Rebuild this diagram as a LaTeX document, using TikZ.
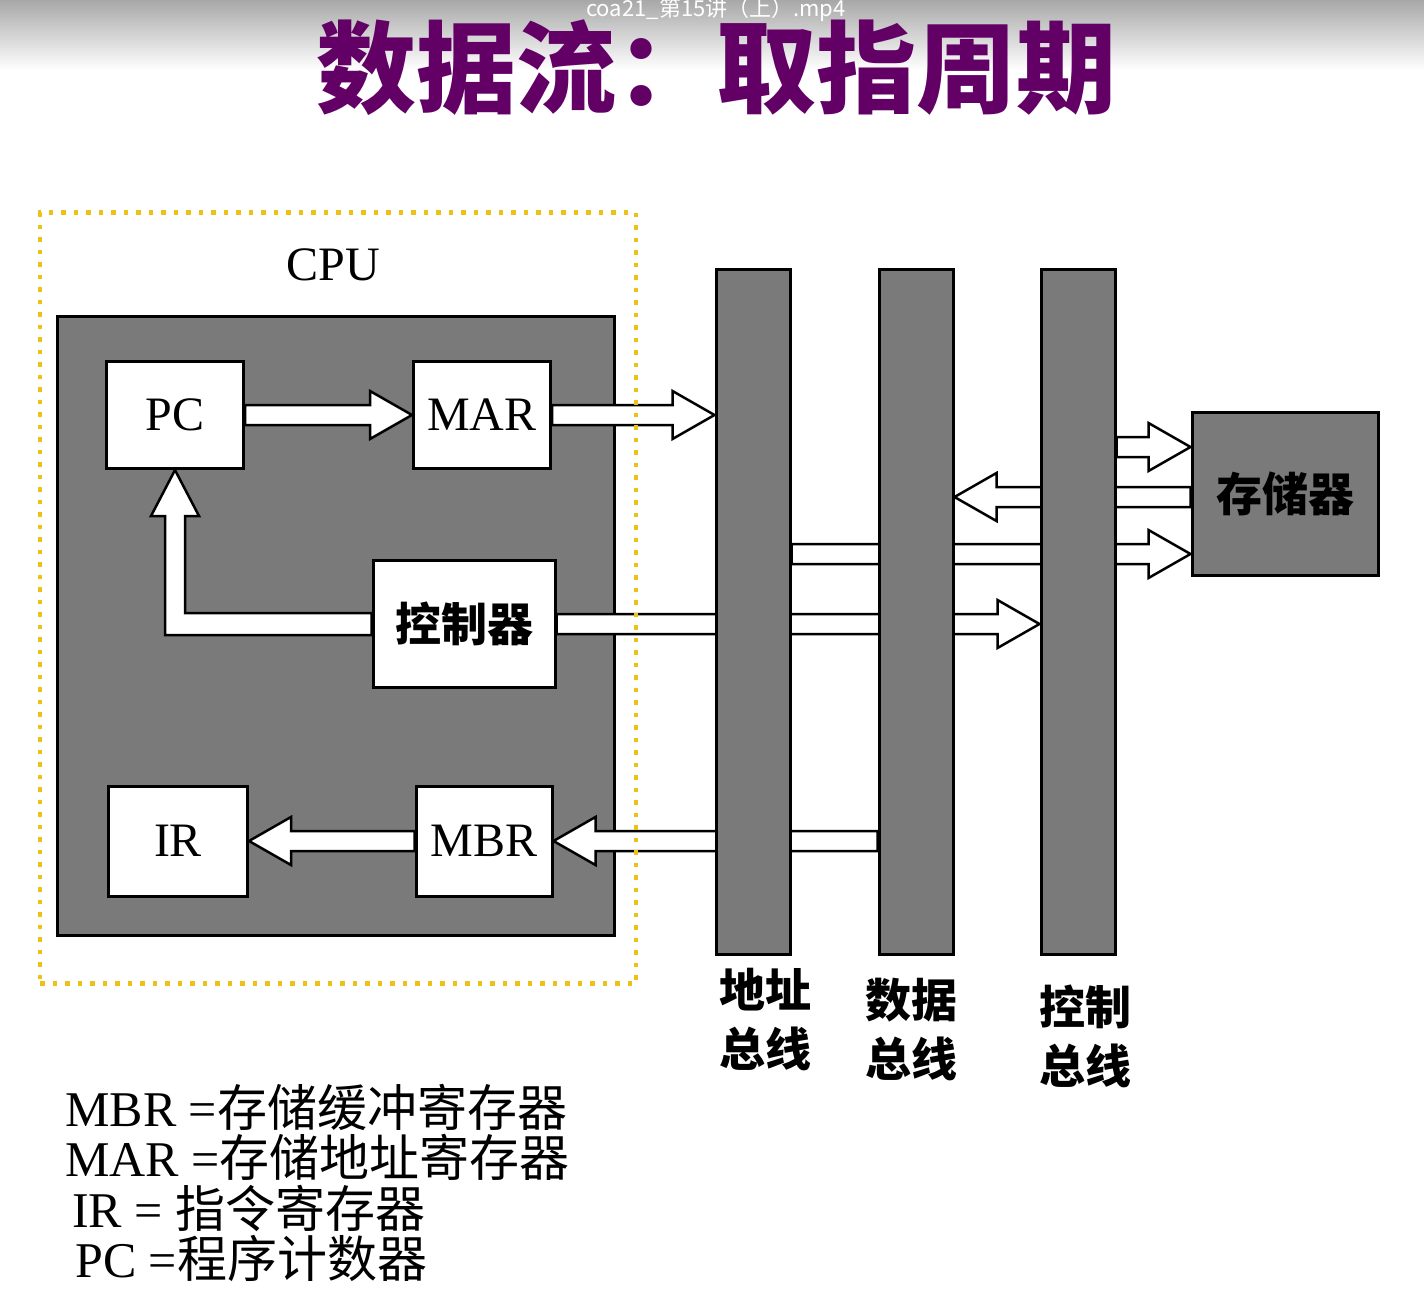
\documentclass[tikz,border=0pt]{standalone}
\usepackage{fontspec}
\setmainfont{Liberation Serif}
\newfontfamily\cjk{Noto Sans CJK SC}
\usepackage{xcolor}
\usepackage{tikz}
\usetikzlibrary{positioning, calc, backgrounds}

\definecolor{titlepurple}{RGB}{98,0,102}
\definecolor{zoneyellow}{RGB}{236,194,22}
\definecolor{panelgray}{RGB}{122,122,122}
\definecolor{topgray}{RGB}{168,168,168}

% hollow block arrow: shaft starts at #1, tip lands on #2 (horizontal)
\newcommand{\fatarrow}[2]{%
  \draw[fat] let \p1=(#1), \p2=(#2), \p3=($(#2)!42pt!(#1)$) in
    (\x1,\y2+10pt) -- (\x3,\y2+10pt) -- (\x3,\y2+24pt) -- (\x2,\y2)
    -- (\x3,\y2-24pt) -- (\x3,\y2-10pt) -- (\x1,\y2-10pt) -- cycle;}

\begin{document}
\begin{tikzpicture}[
  x=1pt, y=-1pt,
  reg/.style={rectangle, draw=black, line width=3pt, fill=white, minimum width=137pt, minimum height=107pt, inner sep=0pt, font=\fontsize{48}{56}\selectfont},
  cjkreg/.style={reg, font=\cjk\bfseries\fontsize{46}{56}\selectfont},
  busbar/.style={rectangle, draw=black, line width=3pt, fill=panelgray, minimum width=74pt, minimum height=685pt, inner sep=0pt},
  buslabel/.style={font=\cjk\bfseries\fontsize{46}{59}\selectfont, align=center, inner sep=0pt},
  legend/.style={anchor=west, inner sep=0pt, font=\fontsize{50}{50}\selectfont},
  fat/.style={draw=black, line width=2.5pt, fill=white, line join=miter},
]

% Canvas
\useasboundingbox (0,0) rectangle (1424,1290);
\begin{scope}[on background layer]
  \fill[white] (0,0) rectangle (1424,1290);
  \shade[top color=topgray, bottom color=white] (0,0) rectangle (1424,70);
  \node[rectangle, draw=black, line width=3pt, fill=panelgray, minimum width=557pt, minimum height=619pt] (cpu) at (336,626) {};
\end{scope}

% Title
\node[text=white, inner sep=0pt, font=\cjk\fontsize{22}{24}\selectfont] (clip) at (716,10) {coa21\_第15讲（上）.mp4};
\node[text=titlepurple, inner sep=0pt, font=\cjk\bfseries\fontsize{100}{110}\selectfont] (title) at (716,68) {数据流：取指周期};

% CPU registers
\node[font=\fontsize{48}{56}\selectfont] (cpulabel) at (333,265) {CPU};
\node[reg] (pc) at (175,415) {PC};
\node[reg] (mar) at (482,415) {MAR};
\node[cjkreg, minimum width=182pt, minimum height=127pt] (ctrl) at (464,624) {控制器};
\node[reg, minimum width=139pt, minimum height=110pt] (ir) at (178,841) {IR};
\node[reg, minimum width=136pt, minimum height=110pt] (mbr) at (484,841) {MBR};

% Buses
\node[busbar] (abus) at (753,612) {};
\node[busbar] (dbus) at (916,612) {};
\node[busbar] (cbus) at (1078,612) {};
\node[buslabel] (alabel) at (765,1020) {地址\\总线};
\node[buslabel] (dlabel) at (911,1030) {数据\\总线};
\node[buslabel] (clabel) at (1085,1036) {控制\\总线};

% Memory
\node[cjkreg, fill=panelgray, minimum width=186pt, minimum height=163pt] (mem) at (1285,494) {存储器};
\coordinate (mtop) at ($(mem.west)+(0,-47)$);
\coordinate (mmid) at ($(mem.west)+(0,3)$);
\coordinate (mbot) at ($(mem.west)+(0,60)$);

% Flow Arrows
\begin{scope}[on background layer]
  \fatarrow{pc.east}{mar.west}
  \fatarrow{mar.east}{abus.west |- mar.east}
  \fatarrow{ctrl.east}{cbus.west |- ctrl.east}
  \fatarrow{dbus.west |- mbr.east}{mbr.east}
  \fatarrow{mbr.west}{ir.east}
  \fatarrow{cbus.east |- mtop}{mtop}
  \fatarrow{mmid}{dbus.east |- mmid}
  \fatarrow{abus.east |- mbot}{mbot}
  % controller back to PC
  \draw[fat] let \p1=(ctrl.west), \p2=(pc.south) in
    (\x1,\y1+11pt) -- (\x2+10pt,\y1+11pt) -- (\x2+10pt,\y2-46pt) -- (\x2+24pt,\y2-46pt)
    -- (\x2,\y2) -- (\x2-24pt,\y2-46pt) -- (\x2-10pt,\y2-46pt) -- (\x2-10pt,\y1-11pt)
    -- (\x1,\y1-11pt) -- cycle;
\end{scope}

% Legend
\node[legend] (mbrdef) at (65,1107) {MBR ={\cjk 存储缓冲寄存器}};
\node[legend] (mardef) at (65,1157) {MAR ={\cjk 存储地址寄存器}};
\node[legend] (irdef) at (72,1208) {IR = {\cjk 指令寄存器}};
\node[legend] (pcdef) at (75,1258) {PC ={\cjk 程序计数器}};

% CPU boundary
\node[draw=zoneyellow, line width=4.5pt, dash pattern=on 4.5pt off 8pt, minimum width=596pt, minimum height=771pt] (cpuzone) at (338,598) {};

\end{tikzpicture}
\end{document}
